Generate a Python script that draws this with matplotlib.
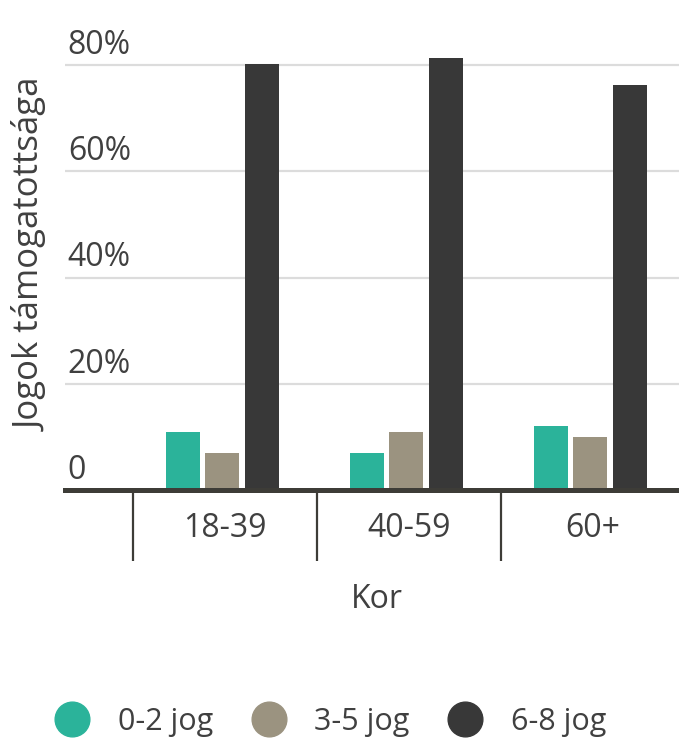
import matplotlib
matplotlib.use("Agg")
import matplotlib.pyplot as plt
import numpy as np
from matplotlib.lines import Line2D
from matplotlib.transforms import ScaledTranslation

plt.rcParams['font.family'] = ['Open Sans', 'DejaVu Sans']

categories = ["18-39", "40-59", "60+"]
series_names = ["0-2 jog", "3-5 jog", "6-8 jog"]
values_0_2 = [10.9, 7.0, 12.0]
values_3_5 = [7.0, 10.9, 10.0]
values_6_8 = [80.2, 81.4, 76.3]
yticks = [0, 20, 40, 60, 80]
ytick_labels = ["0", "20%", "40%", "60%", "80%"]
colors = ["#2bb39a", "#9b9380", "#383838"]
text_color = "#404040"
axis_color = "#3d3c37"

W, H = 679, 744
fig = plt.figure(figsize=(W / 100, H / 100), dpi=100)
ax = fig.add_axes([65 / W, (H - 490) / H, (W - 65) / W, 470 / H])

x = np.arange(len(categories))
bw = 0.185
pitch = 0.2147
shift = -0.014
series = [values_0_2, values_3_5, values_6_8]
for i, (vals, c) in enumerate(zip(series, colors)):
    ax.bar(x + (i - 1) * pitch + shift, vals, width=bw, color=c, zorder=3)

ax.set_xlim((65 - 225) / 184, (W - 225) / 184)
ax.set_ylim(0, 470 / 5.3125)

for s in ["top", "right", "left"]:
    ax.spines[s].set_visible(False)
ax.spines["bottom"].set_color(axis_color)
ax.spines["bottom"].set_linewidth(3.6)
ax.spines["bottom"].set_zorder(4)

for yv in yticks[1:]:
    ax.axhline(yv, color="#dcdcdc", linewidth=1.6, zorder=1)

ax.set_yticks(yticks)
ax.set_yticklabels(ytick_labels)
ax.tick_params(axis="y", length=0, pad=-2, labelsize=23, labelcolor=text_color)
for lbl in ax.get_yticklabels():
    lbl.set_horizontalalignment("left")
    lbl.set_verticalalignment("baseline")
    lbl.set_transform(lbl.get_transform() + ScaledTranslation(0, 8 / 72, fig.dpi_scale_trans))

ax.set_xticks(x)
ax.set_xticklabels(categories)
ax.set_xticks(np.arange(len(categories)) - 0.5, minor=True)
ax.tick_params(axis="x", which="major", length=0, pad=16, labelsize=23, labelcolor=text_color)
ax.tick_params(axis="x", which="minor", length=51, width=1.6, color=axis_color, direction="out")

ax.set_xlabel("Kor", fontsize=23, color=text_color)
ax.xaxis.set_label_coords((377 - 65) / (W - 65), -(583 - 490) / 470)
ax.set_ylabel("Jogok támogatottsága", fontsize=25, color=text_color)
ax.yaxis.set_label_coords(-(65 - 49) / (W - 65), (490 - 255) / 470)

handles = [Line2D([], [], marker="o", linestyle="none", markersize=25,
                  markerfacecolor=c, markeredgecolor=c) for c in colors]
fig.legend(handles, series_names, loc="center", bbox_to_anchor=(330 / W, (H - 722) / H),
           ncol=3, frameon=False, fontsize=22, labelcolor=text_color,
           handlelength=1.2, handletextpad=0.9, columnspacing=1.2)

fig.savefig("out.png", dpi=100)
